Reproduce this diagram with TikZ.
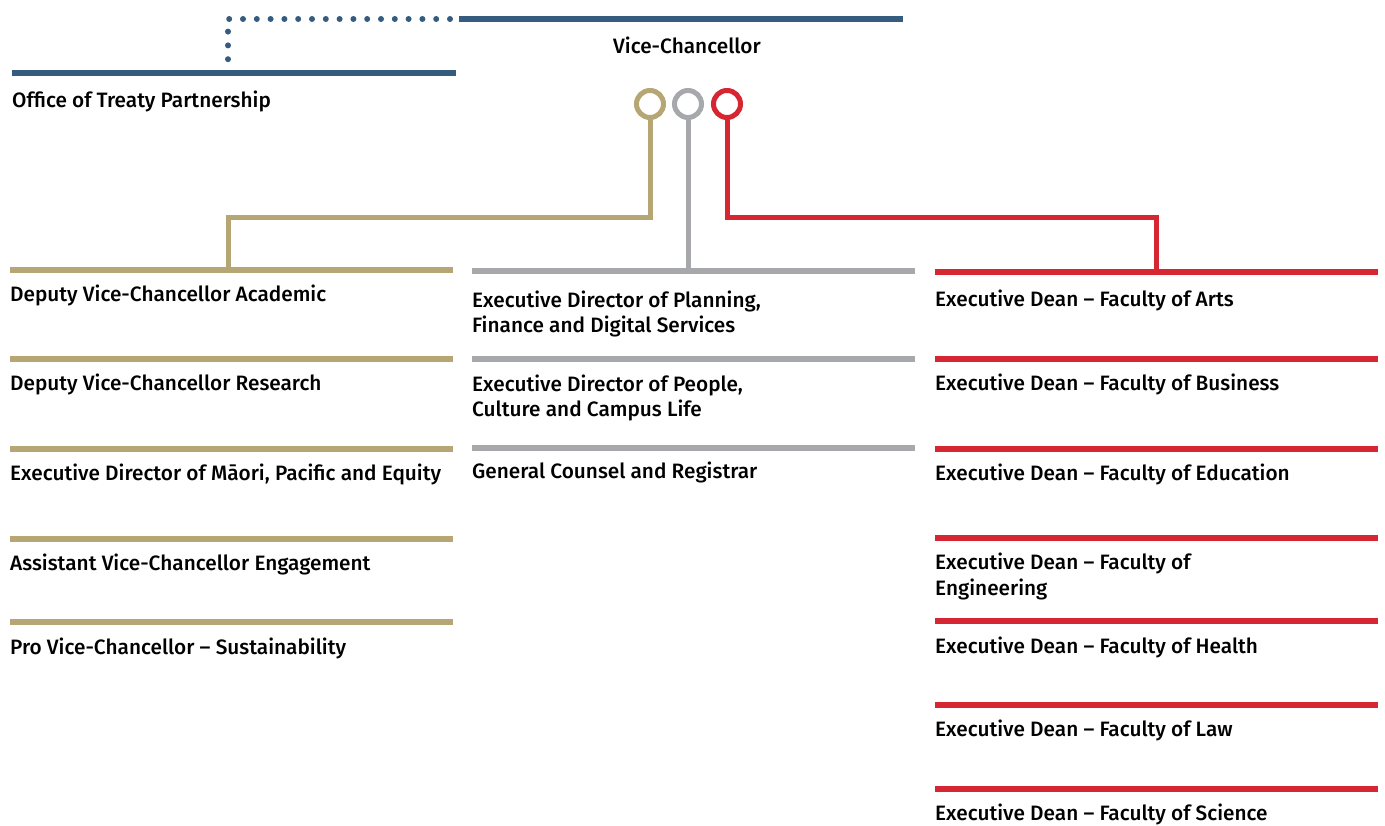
\documentclass[tikz,border=0pt]{standalone}
\usepackage{fontspec}
\setmainfont{Fira Sans}[UprightFont=* Medium]
\definecolor{tpblue}{RGB}{53,91,127}
\definecolor{tpgold}{RGB}{182,166,116}
\definecolor{tpgray}{RGB}{167,168,171}
\definecolor{tpred}{RGB}{214,38,49}
\begin{document}
\begin{tikzpicture}[x=1pt,y=-1pt,
  bar/.style={line width=6pt},
  link/.style={line width=5pt},
  ring/.style={circle, line width=5pt, minimum size=27pt, inner sep=0pt, fill=white},
  lbl/.style={anchor=base west, inner sep=0pt, align=left,
    font=\fontsize{20.8}{25.5}\selectfont, text=black}]
\useasboundingbox (0,0) rectangle (1385,826);

% Vice-Chancellor and Office of Treaty Partnership
\draw[bar, tpblue] (459,19) -- (903,19);
\node[lbl] (vc) at (613,54) {Vice-Chancellor};
\draw[bar, tpblue] (12,73) -- (456,73);
\coordinate (otp) at (228,73);
\coordinate (dotend) at (452,19);
\draw[tpblue, line width=6pt, line cap=round, dash pattern=on 0pt off 13.8pt]
  (otp) -- (228,19) -- (dotend);
\node[lbl] (otplbl) at (12,108) {Office of Treaty Partnership};

% the three portfolio rings
\node[ring, draw=tpgold] (rg) at (650,104) {};
\node[ring, draw=tpgray] (rs) at (688,104) {};
\node[ring, draw=tpred]  (rr) at (727,104) {};

% gold column (bar height / label baseline)
\foreach \y/\b/\t [count=\i] in {270/302/Deputy Vice-Chancellor Academic,
    359/391/Deputy Vice-Chancellor Research,
    449/480/Executive Director of Māori{,} Pacific and Equity,
    539/570/Assistant Vice-Chancellor Engagement,
    622/654/Pro Vice-Chancellor – Sustainability} {
  \draw[bar, tpgold] (10,\y) -- (453,\y);
  \node[lbl] (g\i) at (10,\b) {\t};
}
\coordinate (gtop) at (228,270);
% gray column (baseline of the last line)
\foreach \y/\b/\t [count=\i] in {271/333/{Executive Director of Planning,\\Finance and Digital Services},
    359/417/{Executive Director of People,\\Culture and Campus Life},
    448/478/General Counsel and Registrar} {
  \draw[bar, tpgray] (472,\y) -- (915,\y);
  \node[lbl] (s\i) at (472,\b) {\t};
}
\coordinate (stop) at (688,271);
% red column
\foreach \y/\b/\t [count=\i] in {272/307/Executive Dean – Faculty of Arts,
    359/391/Executive Dean – Faculty of Business,
    449/480/Executive Dean – Faculty of Education,
    538/595/{Executive Dean – Faculty of\\Engineering},
    621/653/Executive Dean – Faculty of Health,
    705/736/Executive Dean – Faculty of Law,
    789/820/Executive Dean – Faculty of Science} {
  \draw[bar, tpred] (935,\y) -- (1378,\y);
  \node[lbl] (r\i) at (935,\b) {\t};
}
\coordinate (rtop) at (1156,272);

% connectors from the rings
\draw[link, tpgold] (rg.south) -- (rg.south |- 0,218) -| (gtop);
\draw[link, tpgray] (rs.south) -- (stop);
\draw[link, tpred]  (rr.south) -- (rr.south |- 0,218) -| (rtop);
\end{tikzpicture}
\end{document}
